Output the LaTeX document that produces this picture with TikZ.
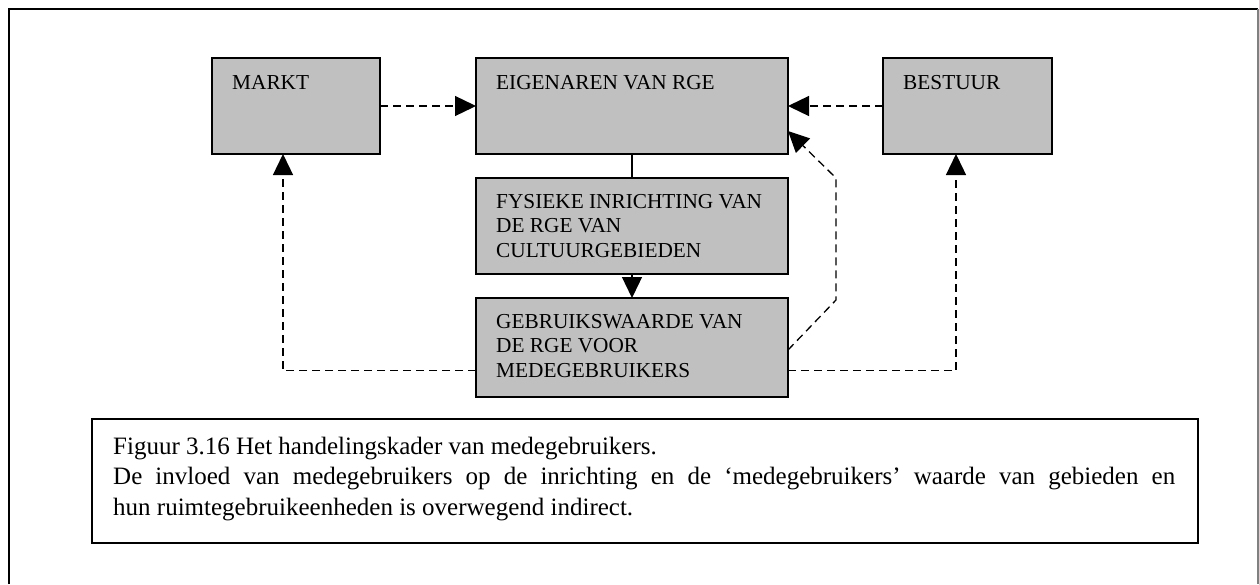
\documentclass[tikz,border=0pt]{standalone}
\usepackage{fontspec}
\setmainfont{Liberation Serif}
\usetikzlibrary{arrows.meta}
\definecolor{boxgrey}{HTML}{C0C0C0}
\tikzset{
  box/.style={draw=black, line width=1.5pt, fill=boxgrey, inner sep=0pt, outer sep=0pt, anchor=north west},
  boxtext/.style={anchor=base west, inner sep=0pt, align=left, font=\fontsize{21.3}{24.5}\selectfont},
  tip/.style={-{Triangle[length=21pt,width=20pt]}},
  link/.style={line width=1.3pt, dash pattern=on 8pt off 5pt, tip},
  solidlink/.style={line width=1.3pt},
}
\begin{document}
\begin{tikzpicture}[x=1pt, y=-1pt]
  \useasboundingbox (0,0) rectangle (1259,584);
  \fill[white] (0,0) rectangle (1259,584);

  % page frame, open at the bottom
  \draw[line width=2.2pt, line join=miter] (9,584) -- (9,9) -- (1258,9);
  \draw[gray, line width=1.2pt] (1258,9) -- (1258,584);

  % boxes
  \node[box, minimum width=168pt, minimum height=96pt] (markt) at (212,58) {};
  \node[box, minimum width=312pt, minimum height=96pt] (eigen) at (476,58) {};
  \node[box, minimum width=169pt, minimum height=96pt] (bestuur) at (883,58) {};
  \node[box, minimum width=312pt, minimum height=96pt] (fys) at (476,178) {};
  \node[box, minimum width=312pt, minimum height=99pt] (gebr) at (476,298) {};

  % box labels (base anchor sits on the last line's baseline)
  \node[boxtext] (marktT) at ([xshift=20pt,yshift=-31pt]markt.north west) {MARKT};
  \node[boxtext] (eigenT) at ([xshift=20pt,yshift=-31pt]eigen.north west) {EIGENAREN VAN RGE};
  \node[boxtext] (bestuurT) at ([xshift=20pt,yshift=-31pt]bestuur.north west) {BESTUUR};
  \node[boxtext] (fysT) at ([xshift=20pt,yshift=-79pt]fys.north west) {FYSIEKE INRICHTING VAN\\DE RGE VAN\\CULTUURGEBIEDEN};
  \node[boxtext] (gebrT) at ([xshift=20pt,yshift=-79pt]gebr.north west) {GEBRUIKSWAARDE VAN\\DE RGE VOOR\\MEDEGEBRUIKERS};

  % connectors
  \draw[link] (markt) -- (eigen);
  \draw[link] (bestuur) -- (eigen);
  \draw[solidlink] (eigen.south) -- (fys.north);
  \draw[solidlink, tip] (fys.south) -- (gebr.north);
  \draw[link] ([yshift=-23pt]gebr.west) -| ([xshift=-13pt]markt.south);
  \draw[link] ([yshift=-23pt]gebr.east) -| ([xshift=-11.5pt]bestuur.south);
  \coordinate (bendlow) at (836,300);
  \coordinate (bendhigh) at (836,178);
  \draw[link] ([yshift=-2.5pt]gebr.east) -- (bendlow) -- (bendhigh) -- ([yshift=-25pt]eigen.east);

  % caption (text-width node: base anchor on the first line)
  \node[draw=black, line width=2pt, inner sep=0pt, anchor=north west,
        minimum width=1106pt, minimum height=124pt] (capbox) at (91,418) {};
  \node[anchor=base west, inner sep=0pt, text width=1062pt, align=justify,
        font=\fontsize{25}{30.5}\selectfont] (capT) at (113,454)
    {Figuur 3.16 Het handelingskader van medegebruikers.\newline
     De invloed van medegebruikers op de inrichting en de ‘medegebruikers’ waarde van gebieden en\linebreak
     hun ruimtegebruikeenheden is overwegend indirect.};
\end{tikzpicture}
\end{document}
